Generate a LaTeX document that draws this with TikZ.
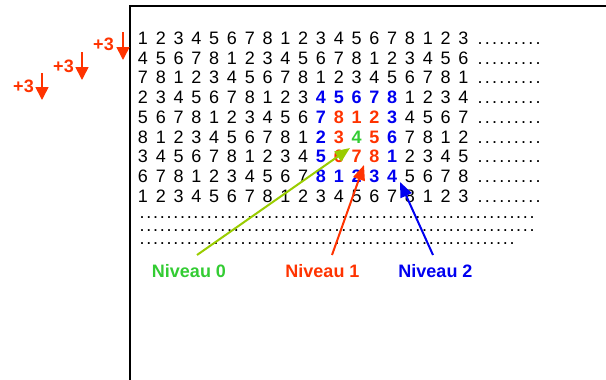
\documentclass[tikz,border=0pt]{standalone}
\usepackage{fontspec}
\setmainfont{Liberation Sans}
\usetikzlibrary{arrows.meta,calc}
\definecolor{nblue}{HTML}{0000F0}
\definecolor{nred}{HTML}{FF3300}
\definecolor{ngreen}{HTML}{33CC33}
\definecolor{nlime}{HTML}{99CC00}
\ExplSyntaxOn
\cs_new:Npn \myreps #1#2 { \prg_replicate:nn {#1} {#2} }
\ExplSyntaxOff
\tikzset{
  digit/.style={anchor=base,inner sep=0pt,font=\fontsize{18}{20}\selectfont},
  dotc/.style={anchor=base west,inner sep=0pt,text height=2pt,text depth=0pt,font=\fontsize{18}{20}\selectfont},
  lvl/.style={anchor=base,inner sep=0pt,font=\fontsize{18}{20}\selectfont\bfseries},
  lv0/.style={text=ngreen,font=\fontsize{18}{20}\selectfont\bfseries},
  lv1/.style={text=nred,font=\fontsize{18}{20}\selectfont\bfseries},
  lv2/.style={text=nblue,font=\fontsize{18}{20}\selectfont\bfseries},
  lv3/.style={text=black},
  frameline/.style={line width=2pt},
  ptr/.style={line width=2pt,-{Triangle[length=15pt,width=12pt]}},
  downarrow/.style={nred,line width=1.6pt,-{Triangle[length=13pt,width=13pt]}},
}
\begin{document}
\begin{tikzpicture}[x=1pt,y=-1pt]
\useasboundingbox (0,0) rectangle (606,380);
\draw[frameline] (130,380) -- (130,6) -- (606,6);

% digit grid
\foreach \r in {0,...,8}{
  \foreach \c in {0,...,18}{
    \pgfmathtruncatemacro{\d}{mod(3*\r+\c,8)+1}
    \pgfmathtruncatemacro{\k}{min(max(abs(\r-5),abs(\c-12)),3)}
    \node[digit,lv\k] (d-\r-\c) at (143+17.8*\c, 44.5+19.7*\r) {\d};
  }
  \node[dotc] (rd-\r) at (477.5, 44.5+19.7*\r) {\myreps{9}{.\hspace{2.25pt}}};
}
% dotted lines
\node[dotc] (la) at (139.5, 218) {\myreps{59}{.\hspace{1.72pt}}};
\node[dotc] (lb) at (139.5, 231) {\myreps{59}{.\hspace{1.72pt}}};
\node[dotc] (lc) at (139.5, 244) {\myreps{56}{.\hspace{1.72pt}}};

% level labels
\node[lvl,text=ngreen] (n0) at (189,277) {Niveau 0};
\node[lvl,text=nred] (n1) at (322.5,277) {Niveau 1};
\node[lvl,text=nblue] (n2) at (435.5,277) {Niveau 2};

\coordinate (t0) at (197,255);
\coordinate (h0) at (350,148);
\coordinate (t1) at (332,255);
\coordinate (h1) at (364,165);
\coordinate (t2) at (433,255);
\coordinate (h2) at (400,182);
\draw[ptr,nlime] (t0) -- (h0);
\draw[ptr,nred] (t1) -- (h1);
\draw[ptr,nblue] (t2) -- (h2);

% +3 shift markers
\node[lvl,text=nred] (p1) at (103.5,50) {+3};
\node[lvl,text=nred] (p2) at (63.5,72) {+3};
\node[lvl,text=nred] (p3) at (23.5,92) {+3};
\coordinate (a1s) at (123,32);
\coordinate (a1e) at (123,60);
\coordinate (a2s) at (82,52);
\coordinate (a2e) at (82,80);
\coordinate (a3s) at (42,73);
\coordinate (a3e) at (42,100);
\draw[downarrow] (a1s) -- (a1e);
\draw[downarrow] (a2s) -- (a2e);
\draw[downarrow] (a3s) -- (a3e);
\end{tikzpicture}
\end{document}
